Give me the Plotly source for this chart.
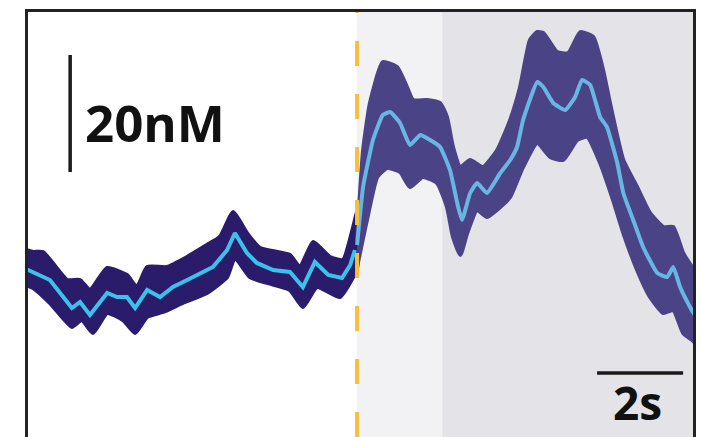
import plotly.graph_objects as go

# ---------------- data (time in s relative to stimulus, signal in nM) ----------------
pre_t = [-7.70, -7.53, -7.14, -6.63, -6.44, -6.21, -5.81, -5.58, -5.35, -5.16, -4.88, -4.58,
         -4.28, -3.95, -3.65, -3.35, -3.02, -2.84, -2.56, -2.33, -1.95, -1.56, -1.26, -0.98,
         -0.67, -0.35, -0.16, -0.05]
pre_mean = [1.9, 1.37, 0.0, -4.79, -3.76, -5.98, -2.22, -2.91, -2.91, -4.79, -1.71, -2.91,
            -1.20, 0.0, 1.20, 2.22, 5.13, 8.03, 4.62, 2.91, 1.71, 1.37, -1.20, 3.08,
            0.85, 0.34, 2.56, 5.13]

pre_up_t = [-7.70, -7.53, -7.30, -6.74, -6.44, -6.21, -5.81, -5.35, -5.12, -4.88, -4.42, -3.95,
            -3.49, -3.19, -2.88, -2.56, -2.26, -1.56, -1.33, -1.02, -0.63, -0.33, -0.09, 0.0]
pre_up = [5.13, 4.79, 4.79, 0.0, 0.0, -1.71, 2.05, 0.85, -1.20, 2.22, 2.22, 3.93,
          5.98, 7.35, 11.62, 8.03, 5.47, 4.27, 2.22, 6.50, 3.93, 3.42, 9.06, 11.6]
pre_lo_t = [-7.70, -7.53, -7.14, -6.63, -6.40, -6.14, -5.81, -5.44, -5.16, -4.88, -4.51, -4.05,
            -3.49, -3.02, -2.84, -2.49, -2.09, -1.56, -1.26, -0.93, -0.40, -0.09, 0.0]
pre_lo = [-0.85, -1.37, -3.93, -8.03, -6.84, -9.06, -5.64, -6.84, -9.06, -6.32, -5.47, -3.93,
          -2.22, 0.51, 3.76, 0.51, -0.51, -1.71, -4.62, -1.20, -2.91, 0.51, 2.05]

post_t = [0.0, 0.14, 0.37, 0.60, 0.77, 1.00, 1.23, 1.47, 1.70, 1.93, 2.16, 2.35, 2.44, 2.63,
          2.79, 3.02, 3.33, 3.56, 3.72, 3.86, 4.19, 4.33, 4.56, 4.84, 5.07, 5.23, 5.42, 5.65,
          5.81, 6.05, 6.19, 6.42, 6.65, 6.98, 7.21, 7.35, 7.51, 7.74, 7.85]
post_mean = [5.98, 15.90, 23.93, 28.21, 28.72, 26.84, 23.08, 24.79, 23.93, 22.74, 18.80, 12.48,
             10.26, 14.87, 16.58, 14.87, 18.29, 20.51, 22.74, 27.35, 33.85, 32.99, 30.26, 29.06,
             31.28, 34.19, 33.33, 27.86, 26.15, 20.00, 14.87, 10.26, 5.64, 1.20, 0.51, 2.22,
             -1.20, -4.62, -6.0]

post_up_t = [0.0, 0.14, 0.30, 0.60, 0.93, 1.16, 1.30, 1.63, 1.93, 2.09, 2.23, 2.40, 2.63, 2.93,
             3.26, 3.56, 3.79, 4.02, 4.19, 4.33, 4.65, 4.91, 5.19, 5.49, 5.72, 5.88, 6.19,
             6.51, 6.81, 7.12, 7.35, 7.58, 7.79, 7.90]
post_up = [6.84, 22.2, 30.26, 37.26, 36.41, 32.99, 30.77, 30.77, 30.26, 27.86, 22.74, 19.32,
           20.51, 19.32, 22.22, 27.35, 32.99, 41.03, 42.39, 42.22, 38.97, 38.80, 42.39, 41.54,
           35.90, 30.26, 20.51, 15.90, 11.45, 9.06, 9.06, 4.62, 2.22, 1.5]
post_lo_t = [0.0, 0.23, 0.47, 0.70, 1.00, 1.23, 1.53, 1.86, 2.09, 2.23, 2.40, 2.56, 2.79, 3.02,
             3.33, 3.56, 3.86, 4.19, 4.49, 4.79, 5.12, 5.35, 5.65, 5.95, 6.19, 6.51, 6.81,
             7.12, 7.35, 7.58, 7.79, 7.90]
post_lo = [2.22, 10.26, 17.61, 19.15, 18.46, 15.90, 17.61, 16.58, 12.48, 7.35, 4.27, 8.03,
           11.97, 10.77, 12.48, 14.19, 19.32, 23.42, 21.03, 20.51, 23.93, 24.44, 20.00, 13.68,
           8.03, 1.71, -2.91, -5.64, -5.13, -9.06, -10.26, -11.0]

# scale bars and regions
scale_y_nM = 20
scale_x_s = 2
stim_t = 0.0
light_end_t = 1.98
x_range = [-7.65, 7.81]
y_range = [-26.84, 45.81]

# ---------------- figure ----------------
PRE_BAND = "#2a1b6b"
PRE_LINE = "#3cc1ea"
POST_BAND = "#4a4386"
POST_LINE = "#68b6e2"

fig = go.Figure()

fig.add_trace(go.Scatter(
    x=pre_up_t + pre_lo_t[::-1], y=pre_up + pre_lo[::-1],
    fill="toself", fillcolor=PRE_BAND, mode="lines",
    line=dict(color=PRE_BAND, width=4, shape="spline", smoothing=0.5),
    hoverinfo="skip", showlegend=False))
fig.add_trace(go.Scatter(
    x=post_up_t + post_lo_t[::-1], y=post_up + post_lo[::-1],
    fill="toself", fillcolor=POST_BAND, mode="lines",
    line=dict(color=POST_BAND, width=4, shape="spline", smoothing=0.5),
    hoverinfo="skip", showlegend=False))
fig.add_trace(go.Scatter(x=pre_t, y=pre_mean, mode="lines",
                         line=dict(color=PRE_LINE, width=4), showlegend=False))
fig.add_trace(go.Scatter(x=post_t, y=post_mean, mode="lines",
                         line=dict(color=POST_LINE, width=4, shape="spline", smoothing=0.4),
                         showlegend=False))

shapes = [
    dict(type="rect", xref="x", yref="paper", x0=stim_t, x1=light_end_t, y0=0, y1=1,
         fillcolor="#f2f2f5", line=dict(width=0), layer="below"),
    dict(type="rect", xref="x", yref="paper", x0=light_end_t, x1=x_range[1], y0=0, y1=1,
         fillcolor="#e3e3e8", line=dict(width=0), layer="below"),
    dict(type="line", xref="x", yref="paper", x0=stim_t, x1=stim_t, y0=0, y1=1,
         line=dict(color="#f5c040", width=4, dash="25px,28px"), layer="above"),
    # 20 nM scale bar
    dict(type="line", xref="x", yref="y", x0=-6.67, x1=-6.67, y0=18.46, y1=18.46 + scale_y_nM,
         line=dict(color="#1a1a1a", width=3.5)),
    # 2 s scale bar
    dict(type="line", xref="x", yref="y", x0=5.58, x1=5.58 + scale_x_s, y0=-15.9, y1=-15.9,
         line=dict(color="#1a1a1a", width=3.5)),
]

annotations = [
    dict(x=-6.36, y=27.0, xref="x", yref="y", text="20nM", showarrow=False,
         xanchor="left", yanchor="middle",
         font=dict(family="Open Sans", size=51, color="#111", weight=700)),
    dict(x=6.52, y=-20.9, xref="x", yref="y", text="2s", showarrow=False,
         xanchor="center", yanchor="middle",
         font=dict(family="Open Sans", size=46, color="#111", weight=700)),
]

fig.update_layout(
    width=701, height=437,
    margin=dict(l=28, r=8, t=12, b=0),
    paper_bgcolor="white", plot_bgcolor="white",
    shapes=shapes, annotations=annotations,
    xaxis=dict(range=x_range, showgrid=False, zeroline=False, showticklabels=False,
               ticks="", side="top", showline=True, linecolor="#222", linewidth=3),
    yaxis=dict(range=y_range, showgrid=False, zeroline=False, showticklabels=False,
               ticks="", showline=True, mirror=True, linecolor="#222", linewidth=3),
)

fig.write_html("out.html")
